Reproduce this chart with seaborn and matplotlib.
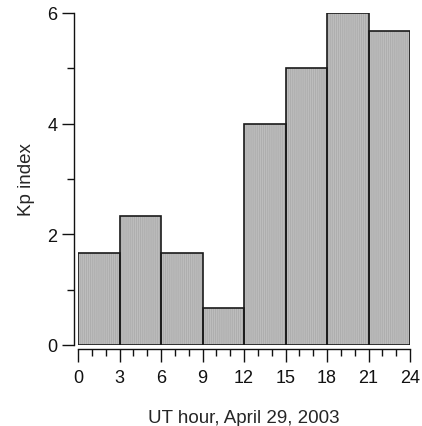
import numpy as np
import pandas as pd
import matplotlib
matplotlib.use("Agg")
import matplotlib.pyplot as plt
import seaborn as sns
from matplotlib.ticker import MultipleLocator

hour_start = [0, 3, 6, 9, 12, 15, 18, 21]
kp = [1.667, 2.333, 1.667, 0.667, 4.0, 5.0, 6.0, 5.667]
bin_edges = [0, 3, 6, 9, 12, 15, 18, 21, 24]

df = pd.DataFrame({"hour": [h + 1.5 for h in hour_start], "kp": kp})

sns.set_style("ticks")
plt.rcParams["font.family"] = ["Liberation Sans", "DejaVu Sans"]
plt.rcParams["hatch.linewidth"] = 0.6

fig = plt.figure(figsize=(4.22, 4.27), dpi=100)
ax = fig.add_axes([78/422, 1-346/427, 332/422, 332/427])

# fill layer with light vertical stripes
sns.histplot(data=df, x="hour", weights="kp", bins=bin_edges, ax=ax,
             color="#bdbdbd", alpha=1, edgecolor="#ababab", linewidth=0)
for p in ax.patches:
    p.set_hatch("||||||||")
n_fill = len(ax.patches)
# outline layer
sns.histplot(data=df, x="hour", weights="kp", bins=bin_edges, ax=ax,
             fill=False, color="#1a1a1a", linewidth=1.2)

ax.set_xlim(0, 24)
ax.set_ylim(0, 6)
ax.xaxis.set_major_locator(MultipleLocator(3))
ax.xaxis.set_minor_locator(MultipleLocator(1))
ax.yaxis.set_major_locator(MultipleLocator(2))
ax.yaxis.set_minor_locator(MultipleLocator(1))
ax.tick_params(which="major", length=9, width=1, colors="#111111", labelsize=13)
ax.tick_params(axis="x", which="major", pad=5)
ax.tick_params(axis="y", which="major", pad=3)
ax.tick_params(which="minor", length=5, width=1, colors="#111111")
ax.set_xlabel("UT hour, April 29, 2003", fontsize=13.5, labelpad=17)
ax.set_ylabel("Kp index", fontsize=13.5, labelpad=9)
sns.despine(ax=ax, offset=3)
for s in ["left", "bottom"]:
    ax.spines[s].set_linewidth(1)
    ax.spines[s].set_color("#111111")

fig.savefig("out.png", dpi=100)
